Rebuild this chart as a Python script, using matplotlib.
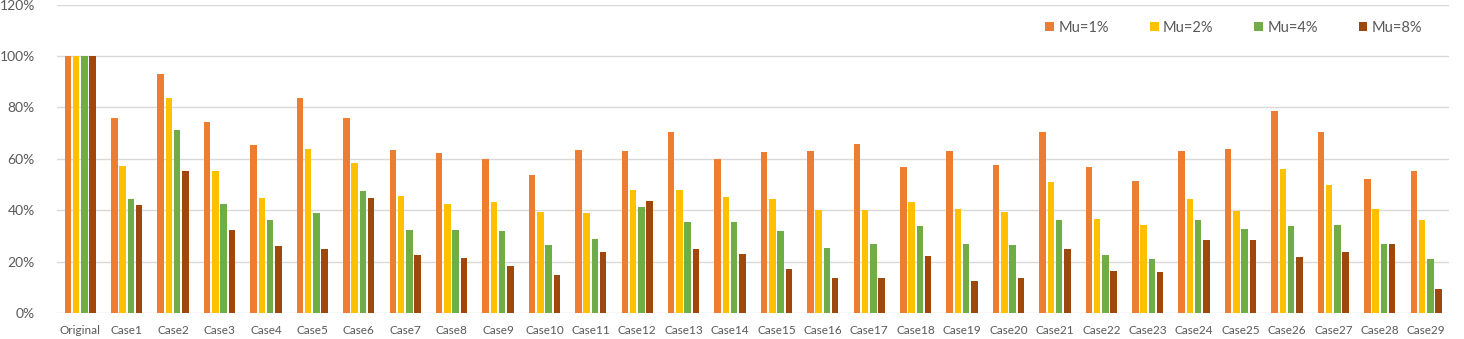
import numpy as np
import matplotlib
matplotlib.use("Agg")
import matplotlib.pyplot as plt
from matplotlib.ticker import FuncFormatter

# --- Data (percent of Original) ---
categories = ["Original"] + [f"Case{i}" for i in range(1, 30)]
series_names = ["Mu=1%", "Mu=2%", "Mu=4%", "Mu=8%"]

mu1 = [100, 75.9, 93.1, 74.2, 65.5, 83.6, 75.9, 63.4, 62.2, 60.0,
       53.6, 63.4, 62.9, 70.4, 60.0, 62.5, 62.9, 65.9, 56.9, 62.9,
       57.7, 70.4, 56.9, 51.2, 62.9, 63.8, 78.8, 70.4, 52.3, 55.2]
mu2 = [100, 57.3, 83.6, 55.2, 44.8, 63.8, 58.2, 45.7, 42.3, 43.2,
       39.2, 38.8, 47.8, 47.8, 45.3, 44.4, 40.1, 40.1, 43.0, 40.4,
       39.2, 50.8, 36.7, 34.1, 44.3, 39.7, 56.0, 49.9, 40.4, 36.3]
mu4 = [100, 44.5, 71.2, 42.4, 36.3, 38.8, 47.4, 32.3, 32.3, 31.8,
       26.4, 28.9, 41.1, 35.4, 35.4, 31.8, 25.3, 26.8, 33.7, 26.8,
       26.4, 36.3, 22.7, 21.1, 36.3, 32.7, 33.7, 34.1, 26.8, 21.1]
mu8 = [100, 42.1, 55.2, 32.3, 25.9, 24.9, 44.7, 22.4, 21.5, 18.4,
       14.7, 23.6, 43.4, 24.9, 22.8, 17.1, 13.4, 13.4, 22.3, 12.5,
       13.4, 24.9, 16.3, 15.8, 28.5, 28.5, 21.9, 23.6, 26.8, 9.2]

series_values = [mu1, mu2, mu4, mu8]
colors = ["#ED7D31", "#FFC000", "#70AD47", "#9E480E"]

# --- Plotting ---
plt.rcParams.update({'font.family': ['Lato', 'DejaVu Sans']})
fig = plt.figure(figsize=(14.64, 3.39), dpi=100)
ax = fig.add_axes([0.039, 0.077, 0.951, 0.909])

x = np.arange(len(categories))
step = 0.178
bar_width = 0.14
for k, (name, vals, col) in enumerate(zip(series_names, series_values, colors)):
    ax.bar(x + (k - 1.5) * step, vals, width=bar_width, color=col, label=name, zorder=3)

ax.set_ylim(0, 120)
ax.set_xlim(-0.5, len(categories) - 0.5)
ax.set_yticks(np.arange(0, 121, 20))
ax.yaxis.set_major_formatter(FuncFormatter(lambda v, _: f"{int(v)}%"))
ax.set_xticks(x)
ax.set_xticklabels(categories)

ax.grid(axis='y', color='#D9D9D9', linewidth=1.0, zorder=0)
for side in ['top', 'right', 'left', 'bottom']:
    ax.spines[side].set_visible(False)
ax.tick_params(axis='both', length=0, colors='#595959')
ax.tick_params(axis='y', labelsize=10, pad=16)
ax.tick_params(axis='x', labelsize=8.5, pad=9)

leg = ax.legend(loc='upper right', bbox_to_anchor=(0.99, 0.99), ncol=4,
                frameon=False, fontsize=10.5, handlelength=0.6, handleheight=0.6,
                handletextpad=0.3, columnspacing=2.8, labelcolor='#595959')

fig.savefig("out.png", dpi=100)
